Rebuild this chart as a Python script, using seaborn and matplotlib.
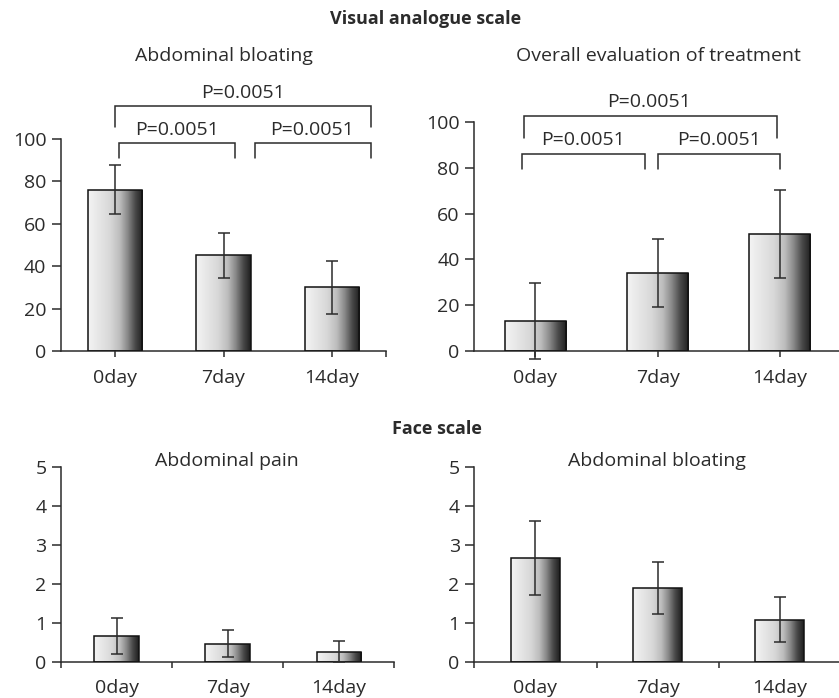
import numpy as np
import matplotlib
matplotlib.use("Agg")
import matplotlib.pyplot as plt
from matplotlib.colors import LinearSegmentedColormap
import seaborn as sns

sns.set_theme(style="white")
plt.rcParams["font.family"] = ["Open Sans", "DejaVu Sans"]

days = ["0day", "7day", "14day"]

# Visual analogue scale
vas_bloating_mean = [76, 45, 30]
vas_bloating_err = [11.5, 10.5, 12.5]
vas_overall_mean = [13.2, 34.2, 51.2]
vas_overall_err = [16.5, 14.8, 19.3]

# Face scale
face_pain_mean = [0.66, 0.48, 0.27]
face_pain_err = [0.46, 0.35, 0.27]
face_bloating_mean = [2.67, 1.90, 1.09]
face_bloating_err = [0.94, 0.67, 0.57]

p_label = "P=0.0051"

INK = "#2b2b2b"
FS = 14
W, H = 839, 698

bar_cmap = LinearSegmentedColormap.from_list(
    "steel",
    [(0.0, "#f4f4f4"), (0.4, "#d8d8d8"), (0.58, "#bdbdbd"),
     (0.72, "#8a8a8a"), (0.86, "#4a4a4a"), (1.0, "#1e1e1e")])

fig = plt.figure(figsize=(W / 100, H / 100), dpi=100)


def px_axes(x0, x1, y0, y1):
    """Axes from pixel edges (y measured from top)."""
    return fig.add_axes([x0 / W, 1 - y0 / H, (x1 - x0) / W, (y0 - y1) / H])


def shade_bars(ax):
    grad = np.linspace(0, 1, 256).reshape(1, -1)
    for p in ax.patches:
        x, y = p.get_x(), p.get_y()
        w, h = p.get_width(), p.get_height()
        im = ax.imshow(grad, cmap=bar_cmap, aspect="auto",
                       extent=[x, x + w, y, y + h], zorder=2,
                       interpolation="bilinear")
        im.set_clip_path(p)
        p.set_facecolor("none")
        p.set_edgecolor("#111111")
        p.set_linewidth(1.1)
        p.set_zorder(3)


def draw_panel(ax, means, errs, width, ymax, yticks, center_ticks):
    sns.barplot(x=days, y=means, ax=ax, width=width, color="white",
                saturation=1, errorbar=None)
    shade_bars(ax)
    ax.errorbar(range(len(days)), means, yerr=errs, fmt="none",
                ecolor=INK, elinewidth=1.1, capsize=4, capthick=1.1,
                zorder=4, clip_on=False)
    ax.set_xlim(-0.5, 2.5)
    ax.set_ylim(0, ymax)
    ax.set_yticks(yticks)
    ax.set_xlabel("")
    ax.set_ylabel("")
    for s in ["top", "right"]:
        ax.spines[s].set_visible(False)
    for s in ["left", "bottom"]:
        ax.spines[s].set_color(INK)
        ax.spines[s].set_linewidth(1.1)
    ax.tick_params(axis="y", direction="out", length=6.5, width=1.1,
                   color=INK, labelsize=FS, labelcolor=INK, pad=4, left=True)
    ax.set_xticks(range(len(days)))
    ax.set_xticklabels(days)
    if center_ticks:
        ax.set_xticks([2.5], minor=True)
        ax.tick_params(axis="x", which="major", direction="out", length=4,
                       width=1.1, color=INK, labelsize=FS,
                       labelcolor=INK, pad=9, bottom=True)
    else:
        ax.set_xticks([-0.5, 0.5, 1.5, 2.5], minor=True)
        ax.tick_params(axis="x", which="major", length=0, labelsize=FS,
                       labelcolor=INK, pad=12)
    ax.tick_params(axis="x", which="minor", direction="out", length=4.5,
                   width=1.1, color=INK, bottom=True)
    ax.set_facecolor("none")


def bracket(ax, x0, x1, y_top, y_bot):
    ax.plot([x0, x0, x1, x1], [y_bot, y_top, y_top, y_bot], color=INK,
            lw=1.1, clip_on=False, zorder=5, solid_joinstyle="miter")


def p_text(ax, x, y):
    ax.text(x, y, p_label, ha="center", va="center", fontsize=FS, color=INK)


# ---- top row: visual analogue scale ----
ax1 = px_axes(61, 386, 351, 138.7)
draw_panel(ax1, vas_bloating_mean, vas_bloating_err, 0.5, 100,
           [0, 20, 40, 60, 80, 100], True)
bracket(ax1, 0.0, 2.36, 115.5, 105.6)
bracket(ax1, 0.04, 1.11, 98.1, 90.8)
bracket(ax1, 1.29, 2.36, 98.1, 90.8)
p_text(ax1, 1.18, 121.7)
p_text(ax1, 0.57, 104.0)
p_text(ax1, 1.82, 104.0)

ax2 = px_axes(474.3, 841, 351, 122)
draw_panel(ax2, vas_overall_mean, vas_overall_err, 0.5, 100,
           [0, 20, 40, 60, 80, 100], True)
bracket(ax2, -0.09, 1.98, 102.6, 92.9)
bracket(ax2, -0.107, 0.90, 86.2, 79.5)
bracket(ax2, 1.0, 2.0, 86.2, 79.5)
p_text(ax2, 0.93, 108.6)
p_text(ax2, 0.39, 92.1)
p_text(ax2, 1.50, 92.1)

# ---- bottom row: face scale ----
ax3 = px_axes(61, 394.3, 662.3, 466.7)
draw_panel(ax3, face_pain_mean, face_pain_err, 0.4, 5, [0, 1, 2, 3, 4, 5], False)

ax4 = px_axes(474.3, 841, 662.3, 466.7)
draw_panel(ax4, face_bloating_mean, face_bloating_err, 0.4, 5,
           [0, 1, 2, 3, 4, 5], False)


def ftext(x, y, s, **kw):
    fig.text(x / W, 1 - y / H, s, ha="center", va="center", color=INK, **kw)


ftext(426, 19, "Visual analogue scale", fontsize=13, fontweight="bold")
ftext(437, 429, "Face scale", fontsize=13, fontweight="bold")
ftext(224, 56, "Abdominal bloating", fontsize=FS)
ftext(658, 56, "Overall evaluation of treatment", fontsize=FS)
ftext(227, 461, "Abdominal pain", fontsize=FS)
ftext(657, 461, "Abdominal bloating", fontsize=FS)

fig.savefig("out.png", dpi=100, facecolor="white")
